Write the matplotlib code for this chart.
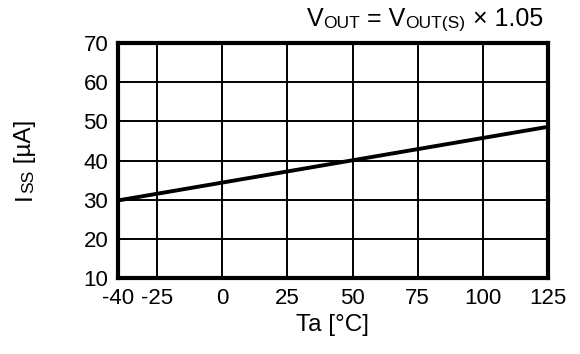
import matplotlib
matplotlib.use("Agg")
import matplotlib.pyplot as plt

# temperature sweep and supply current
ta = [-40, 125]
iss = [29.8, 48.6]

x_ticks = [-40, -25, 0, 25, 50, 75, 100, 125]
y_ticks = [10, 20, 30, 40, 50, 60, 70]

plt.rcParams['font.family'] = ['Liberation Sans', 'DejaVu Sans']
plt.rcParams['axes.unicode_minus'] = False

fig = plt.figure(figsize=(5.8, 3.54), dpi=100)
ax = fig.add_axes([0.2034, 0.2147, 0.7414, 0.6638])

ax.plot(ta, iss, color='black', linewidth=2.8, solid_capstyle='butt', zorder=3)

ax.set_xlim(-40, 125)
ax.set_ylim(10, 70)
ax.set_xticks(x_ticks)
ax.set_yticks(y_ticks)
ax.tick_params(length=0, labelsize=16, pad=7)
ax.grid(True, color='black', linewidth=1.4)
for s in ax.spines.values():
    s.set_linewidth(3.0)
    s.set_zorder(4)

ax.set_xlabel("Ta [°C]", fontsize=17.5, labelpad=4)

big = 17.5
small = 12.5

# title: V_OUT = V_OUT(S) x 1.05, subscripts drawn as smaller text
pieces = [("V", 18), ("OUT", small), (" = V", 18), ("OUT(S)", small), (" \u00d7 1.05", 18)]
prev = fig.text(307 / 580, 1 - 31 / 354, pieces[0][0], fontsize=pieces[0][1],
                ha='left', va='bottom')
for txt, size in pieces[1:]:
    prev = ax.annotate(txt, xy=(1, 0), xycoords=prev, fontsize=size,
                       ha='left', va='bottom', annotation_clip=False)

# y label: I_SS [µA], rotated
ypieces = [("I", big), ("SS", small), (" [\u00b5A]", big)]
prev = fig.text(36 / 580, 1 - 200 / 354, ypieces[0][0], fontsize=ypieces[0][1],
                rotation=90, ha='right', va='bottom')
for txt, size in ypieces[1:]:
    prev = ax.annotate(txt, xy=(1, 1), xycoords=prev, fontsize=size, rotation=90,
                       ha='right', va='bottom', annotation_clip=False)

fig.savefig("out.png", dpi=100)
